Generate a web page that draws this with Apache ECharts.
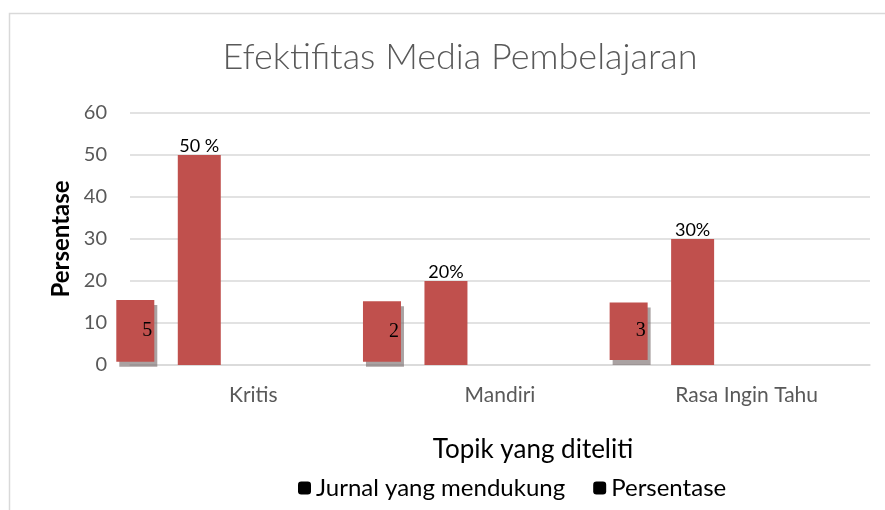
<!DOCTYPE html>
<html>
<head>
<meta charset="utf-8">
<script src="https://cdn.jsdelivr.net/npm/echarts@6/dist/echarts.min.js"></script>
<style>
html,body{margin:0;padding:0;background:#fff;}
#chart{width:885px;height:510px;}
</style>
</head>
<body>
<div id="chart"></div>
<script>
// ---- data ----
var categories = ['Kritis', 'Mandiri', 'Rasa Ingin Tahu'];
var persentase = [50, 20, 30];
var persentaseLabels = ['50 %', '20%', '30%'];
var jurnalCounts = [5, 2, 3];
var jurnalBottom = [0.8, 0.8, 1.2];
var jurnalTop = [15.5, 15.2, 14.9];
var yTicks = [0, 10, 20, 30, 40, 50, 60];

var FONT = 'Lato';
var RED = '#c0504d';
var GRID = '#d9d9d9';

var jurnalHeight = jurnalTop.map(function (t, i) { return +(t - jurnalBottom[i]).toFixed(2); });

var chart = echarts.init(document.getElementById('chart'), null, {renderer: 'canvas'});
chart.setOption({
  animation: false,
  backgroundColor: '#fff',
  textStyle: {fontFamily: FONT},
  title: {
    text: 'Efektifitas Media Pembelajaran',
    left: 455,
    textAlign: 'center',
    top: 34,
    textStyle: {fontFamily: FONT, fontWeight: 300, fontSize: 36, color: '#595959'}
  },
  graphic: [{
    type: 'rect',
    silent: true,
    shape: {x: 9.5, y: 13.5, width: 900, height: 520},
    style: {fill: 'none', stroke: GRID, lineWidth: 1.5}
  }],
  legend: {
    left: 293,
    top: 471,
    icon: 'roundRect',
    itemWidth: 13,
    itemHeight: 13,
    itemGap: 28,
    textStyle: {fontFamily: FONT, fontSize: 24, color: '#000', padding: [0, 0, 0, 0]},
    data: [
      {name: 'Jurnal yang mendukung', itemStyle: {color: '#000'}},
      {name: 'Persentase', itemStyle: {color: '#000'}}
    ]
  },
  grid: {left: 130, right: 15, top: 113, bottom: 145, containLabel: false},
  xAxis: {
    type: 'category',
    data: categories,
    name: 'Topik yang diteliti',
    nameLocation: 'middle',
    nameGap: 72,
    nameTextStyle: {fontFamily: FONT, fontSize: 26, color: '#000', padding: [0, 0, 0, 66]},
    axisLine: {lineStyle: {color: GRID, width: 1.5}},
    axisTick: {show: false},
    axisLabel: {fontFamily: FONT, fontSize: 21, color: '#595959', margin: 20}
  },
  yAxis: {
    type: 'value',
    min: yTicks[0],
    max: yTicks[yTicks.length - 1],
    interval: 10,
    name: 'Persentase',
    nameLocation: 'middle',
    nameGap: 57,
    nameTextStyle: {fontFamily: FONT, fontSize: 24, fontWeight: 'bold', color: '#000'},
    axisLine: {show: false},
    axisTick: {show: false},
    axisLabel: {fontFamily: FONT, fontSize: 20, color: '#595959', margin: 23},
    splitLine: {lineStyle: {color: GRID, width: 1.5}}
  },
  series: [
    {
      name: 'jurnalBase',
      type: 'bar',
      stack: 'jurnal',
      barWidth: 38,
      barGap: '61.8%',
      clip: false,
      silent: true,
      itemStyle: {color: 'transparent'},
      data: jurnalBottom
    },
    {
      name: 'Jurnal yang mendukung',
      type: 'bar',
      stack: 'jurnal',
      barWidth: 38,
      barGap: '61.8%',
      clip: false,
      itemStyle: {
        color: RED,
        shadowColor: 'rgba(125,112,112,0.65)',
        shadowBlur: 0,
        shadowOffsetX: 3,
        shadowOffsetY: 5
      },
      label: {
        show: true,
        position: 'insideRight',
        distance: 2,
        fontFamily: 'Liberation Serif',
        fontSize: 20,
        color: '#000',
        formatter: function (p) { return String(jurnalCounts[p.dataIndex]); }
      },
      data: jurnalHeight
    },
    {
      name: 'Persentase',
      type: 'bar',
      barWidth: 43,
      barGap: '61.8%',
      itemStyle: {color: RED},
      label: {
        show: true,
        position: 'top',
        distance: 0,
        fontFamily: FONT,
        fontSize: 18,
        color: '#000',
        formatter: function (p) { return persentaseLabels[p.dataIndex]; }
      },
      data: persentase
    },
    {
      name: 'spacer',
      type: 'bar',
      barWidth: 143,
      barGap: '61.8%',
      silent: true,
      itemStyle: {color: 'transparent'},
      data: [0, 0, 0]
    }
  ]
});
</script>
</body>
</html>
